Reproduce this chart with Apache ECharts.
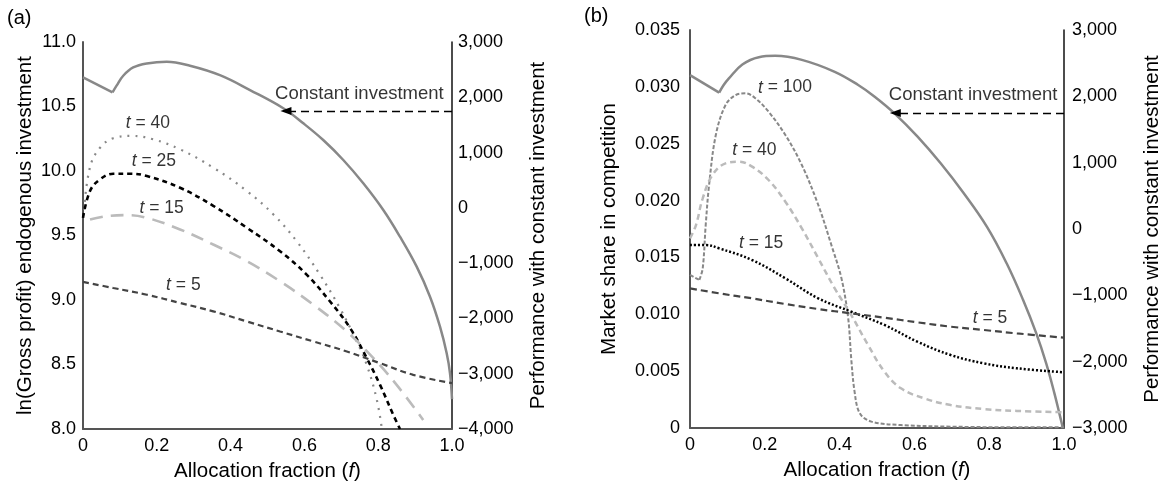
<!DOCTYPE html>
<html>
<head>
<meta charset="utf-8">
<script src="https://cdn.jsdelivr.net/npm/echarts@6/dist/echarts.min.js"></script>
<style>
html,body{margin:0;padding:0;background:#fff;}
#chart{width:1164px;height:487px;}
</style>
</head>
<body>
<div id="chart"></div>
<script>
// ---------- DATA: panel (a) ----------
// Constant investment (right axis)
const aConstF = [0, 0.08, 0.091, 0.109, 0.136, 0.173, 0.227, 0.29, 0.371, 0.4526, 0.5428, 0.597, 0.651, 0.7054, 0.7596, 0.8138, 0.859, 0.9043, 0.9404, 0.9675, 0.9856, 0.9946, 1.0];
const aConstV = [2360, 2087, 2210, 2390, 2540, 2613, 2643, 2571, 2400, 2130, 1801, 1529, 1227, 866, 444, -39, -522, -1064, -1607, -2150, -2631, -2993, -3460];
// ln(Gross profit), endogenous investment (left axis)
const a40F = [0.003, 0.019, 0.046, 0.082, 0.132, 0.19, 0.263, 0.353, 0.444, 0.516, 0.579, 0.642, 0.696, 0.742, 0.769, 0.796, 0.81];
const a40V = [9.70, 10.03, 10.18, 10.254, 10.272, 10.246, 10.168, 10.026, 9.845, 9.663, 9.456, 9.197, 8.938, 8.679, 8.497, 8.23, 8.0];
const a25F = [0, 0.019, 0.046, 0.082, 0.127, 0.173, 0.263, 0.353, 0.444, 0.534, 0.606, 0.669, 0.724, 0.769, 0.805, 0.841, 0.859];
const a25V = [9.637, 9.845, 9.935, 9.979, 9.979, 9.961, 9.870, 9.73, 9.560, 9.378, 9.197, 8.990, 8.782, 8.549, 8.342, 8.109, 8.0];
const a15F = [0.019, 0.064, 0.118, 0.173, 0.263, 0.353, 0.444, 0.534, 0.624, 0.715, 0.787, 0.85, 0.922];
const a15V = [9.624, 9.650, 9.658, 9.637, 9.547, 9.430, 9.301, 9.145, 8.964, 8.756, 8.549, 8.342, 8.070];
const a5F = [0, 0.082, 0.173, 0.263, 0.353, 0.444, 0.534, 0.624, 0.715, 0.805, 0.895, 1.0];
const a5V = [9.140, 9.093, 9.041, 8.977, 8.912, 8.834, 8.756, 8.679, 8.601, 8.510, 8.420, 8.355];

// ---------- DATA: panel (b) ----------
const bConstF = [0, 0.078, 0.09, 0.104, 0.14, 0.184, 0.228, 0.299, 0.387, 0.4497, 0.4938, 0.5467, 0.6085, 0.6702, 0.732, 0.7937, 0.8466, 0.8907, 0.9259, 0.9524, 0.9744, 0.9876, 0.997];
const bConstV = [2320, 2055, 2170, 2270, 2480, 2590, 2610, 2550, 2370, 2171, 1995, 1744, 1392, 990, 538, 35, -517, -1070, -1573, -2025, -2477, -2779, -3000];
// Market share in competition (left axis)
const b100F = [0, 0.025, 0.034, 0.042, 0.051, 0.069, 0.095, 0.122, 0.149, 0.175, 0.21, 0.255, 0.299, 0.343, 0.378, 0.405, 0.423, 0.431, 0.44, 0.454, 0.485, 0.564, 0.697, 0.874, 1.0];
const b100V = [0.01346, 0.01302, 0.01404, 0.01785, 0.02137, 0.02577, 0.0284, 0.02928, 0.02943, 0.02899, 0.02782, 0.02577, 0.02313, 0.01961, 0.01609, 0.01316, 0.00964, 0.00613, 0.0032, 0.00129, 0.00056, 0.00026, 0.00012, 0.00006, 0.00006];
const b40F = [0, 0.016, 0.034, 0.06, 0.095, 0.131, 0.166, 0.21, 0.255, 0.299, 0.343, 0.387, 0.431, 0.476, 0.52, 0.564, 0.626, 0.697, 0.785, 0.874, 1.0];
const b40V = [0.01668, 0.01785, 0.0202, 0.02225, 0.02327, 0.02342, 0.02298, 0.02181, 0.0199, 0.01756, 0.01492, 0.01228, 0.00994, 0.0073, 0.00495, 0.00349, 0.00261, 0.00202, 0.00167, 0.0015, 0.00138];
const b15F = [0, 0.042, 0.078, 0.166, 0.255, 0.343, 0.431, 0.52, 0.608, 0.697, 0.785, 0.874, 1.0];
const b15V = [0.01609, 0.01609, 0.0158, 0.01477, 0.01316, 0.0114, 0.01023, 0.00906, 0.00759, 0.00642, 0.00569, 0.00525, 0.0049];
const b5F = [0, 0.078, 0.166, 0.255, 0.343, 0.431, 0.52, 0.608, 0.697, 0.785, 0.874, 1.0];
const b5V = [0.01228, 0.01184, 0.0114, 0.0109, 0.01046, 0.01008, 0.0097, 0.00929, 0.00891, 0.00862, 0.00832, 0.00794];

// Arrow level on the right axis
const arrowLevel = 1750;

// ---------- annotation text ----------
const aLabels = [
  {text: '{i|t} = 40', f: 0.176, v: 10.368},
  {text: '{i|t} = 25', f: 0.192, v: 10.078},
  {text: '{i|t} = 15', f: 0.213, v: 9.715},
  {text: '{i|t} = 5',  f: 0.272, v: 9.114}
];
const bLabels = [
  {text: '{i|t} = 100', f: 0.254, v: 0.02993},
  {text: '{i|t} = 40',  f: 0.172, v: 0.02445},
  {text: '{i|t} = 15',  f: 0.19,  v: 0.01624},
  {text: '{i|t} = 5',   f: 0.802, v: 0.00965}
];

const FONT = "'Liberation Sans', Arial, Helvetica, sans-serif";
const TICK = 18, TITLE = 20.5, ANN = 17.5;
const zip = (F, V) => F.map((f, i) => [f, V[i]]);

function fmtRight(v) {
  if (v === 0) return '0';
  return (v < 0 ? '\u2212' : '') + Math.abs(v).toLocaleString('en-US');
}

function xAxisCfg(gi) {
  return {
    gridIndex: gi, type: 'value', min: 0, max: 1, interval: 0.2,
    axisLine: {show: true, onZero: false, lineStyle: {color: '#555', width: 2}},
    axisTick: {show: false}, splitLine: {show: false},
    axisLabel: {color: '#000', fontSize: TICK, fontFamily: FONT, margin: 8,
      formatter: v => v === 0 ? '0' : v.toFixed(1)},
    name: 'Allocation fraction ({i|f})', nameLocation: 'middle', nameGap: 32,
    nameTextStyle: {color: '#000', fontSize: TITLE, fontFamily: FONT,
      rich: {i: {fontStyle: 'italic', fontSize: TITLE, fontFamily: FONT, color: '#000'}}}
  };
}

function lineSeries(data, xi, yi, color, width, type, smooth) {
  return {
    type: 'line', xAxisIndex: xi, yAxisIndex: yi, data: data,
    showSymbol: false, symbol: 'none', smooth: smooth === undefined ? 0.4 : smooth,
    lineStyle: {color: color, width: width, type: type, cap: 'butt'},
    silent: true, animation: false, z: 3
  };
}

function labelSeries(labels, xi, yi) {
  return {
    type: 'scatter', xAxisIndex: xi, yAxisIndex: yi, symbolSize: 0, silent: true, animation: false,
    data: labels.map(l => ({value: [l.f, l.v], name: l.text})),
    label: {show: true, position: 'inside', color: '#000', fontSize: ANN, fontFamily: FONT,
      formatter: p => p.name,
      rich: {i: {fontStyle: 'italic', fontSize: ANN, fontFamily: FONT, color: '#000'}}},
    z: 5
  };
}

function arrowSeries(xi, yi, tipF, level, textF, textV) {
  return {
    type: 'scatter', xAxisIndex: xi, yAxisIndex: yi, symbolSize: 0, silent: true, animation: false,
    data: [{value: [textF, textV], name: 'Constant investment'}],
    label: {show: true, position: 'inside', color: '#000', fontSize: 18.5, fontFamily: FONT, formatter: p => p.name},
    markLine: {
      silent: true, animation: false, symbol: ['none', 'triangle'], symbolSize: [8, 11],
      lineStyle: {color: '#000', width: 1.3, type: [8, 5]},
      label: {show: false},
      data: [[{coord: [1, level]}, {coord: [tipF, level]}]]
    },
    z: 5
  };
}

const constColor = '#888';

const option = {
  backgroundColor: '#fff',
  animation: false,
  textStyle: {fontFamily: FONT},
  grid: [
    {left: 83, top: 42, width: 369, height: 387},
    {left: 690, top: 30, width: 378, height: 398}
  ],
  xAxis: [xAxisCfg(0), xAxisCfg(1)],
  yAxis: [
    {gridIndex: 0, type: 'value', position: 'left', min: 8, max: 11, interval: 0.5,
      axisLine: {show: true, onZero: false, lineStyle: {color: '#555', width: 2}},
      axisTick: {show: false}, splitLine: {show: false},
      axisLabel: {color: '#000', fontSize: TICK, fontFamily: FONT, margin: 7, formatter: v => v.toFixed(1)},
      name: 'ln(Gross profit) endogenous investment', nameLocation: 'middle', nameRotate: 90, nameGap: 47,
      nameTextStyle: {color: '#000', fontSize: TITLE, fontFamily: FONT}},
    {gridIndex: 0, type: 'value', position: 'right', min: -4000, max: 3000, interval: 1000,
      axisLine: {show: true, onZero: false, lineStyle: {color: '#111', width: 1.5}},
      axisTick: {show: false}, splitLine: {show: false},
      axisLabel: {color: '#000', fontSize: TICK, fontFamily: FONT, margin: 6, formatter: fmtRight},
      name: 'Performance with constant investment', nameLocation: 'middle', nameRotate: 90, nameGap: 76,
      nameTextStyle: {color: '#000', fontSize: TITLE, fontFamily: FONT}},
    {gridIndex: 1, type: 'value', position: 'left', min: 0, max: 0.035, interval: 0.005,
      axisLine: {show: true, onZero: false, lineStyle: {color: '#555', width: 2}},
      axisTick: {show: false}, splitLine: {show: false},
      axisLabel: {color: '#000', fontSize: TICK, fontFamily: FONT, margin: 10,
        formatter: v => Math.abs(v) < 1e-9 ? '0' : v.toFixed(3)},
      name: 'Market share in competition', nameLocation: 'middle', nameRotate: 90, nameGap: 70,
      nameTextStyle: {color: '#000', fontSize: TITLE, fontFamily: FONT}},
    {gridIndex: 1, type: 'value', position: 'right', min: -3000, max: 3000, interval: 1000,
      axisLine: {show: true, onZero: false, lineStyle: {color: '#111', width: 1.5}},
      axisTick: {show: false}, splitLine: {show: false},
      axisLabel: {color: '#000', fontSize: TICK, fontFamily: FONT, margin: 8, formatter: fmtRight},
      name: 'Performance with constant investment', nameLocation: 'middle', nameRotate: 90, nameGap: 78,
      nameTextStyle: {color: '#000', fontSize: TITLE, fontFamily: FONT}}
  ],
  graphic: [
    {type: 'text', left: 7, top: 8, style: {text: '(a)', fontSize: 20, fontFamily: FONT, fill: '#000'}},
    {type: 'text', left: 584, top: 6, style: {text: '(b)', fontSize: 20, fontFamily: FONT, fill: '#000'}}
  ],
  series: [
    // panel (a)
    lineSeries(zip(aConstF.slice(0, 2), aConstV.slice(0, 2)), 0, 1, constColor, 2.5, 'solid', false),
    lineSeries(zip(aConstF.slice(1), aConstV.slice(1)), 0, 1, constColor, 2.5, 'solid', 0.4),
    lineSeries(zip(a40F, a40V), 0, 0, '#888', 2.2, [2, 6]),
    lineSeries(zip(a25F, a25V), 0, 0, '#000', 2.6, [5, 4]),
    lineSeries(zip(a15F, a15V), 0, 0, '#bbb', 2.6, [13, 8]),
    lineSeries(zip(a5F, a5V), 0, 0, '#444', 2.2, [6, 4]),
    labelSeries(aLabels, 0, 0),
    arrowSeries(0, 1, 0.55, arrowLevel, 0.749, 2070),
    // panel (b)
    lineSeries(zip(bConstF.slice(0, 2), bConstV.slice(0, 2)), 1, 3, constColor, 2.5, 'solid', false),
    lineSeries(zip(bConstF.slice(1), bConstV.slice(1)), 1, 3, constColor, 2.5, 'solid', 0.4),
    lineSeries(zip(b100F.slice(0, 2), b100V.slice(0, 2)), 1, 2, '#888', 2, [4, 2], false),
    lineSeries(zip(b100F.slice(1), b100V.slice(1)), 1, 2, '#888', 2, [4, 2], 0.35),
    lineSeries(zip(b40F, b40V), 1, 2, '#bbb', 2.5, [6, 4]),
    lineSeries(zip(b15F, b15V), 1, 2, '#000', 2.5, [2, 2]),
    lineSeries(zip(b5F, b5V), 1, 2, '#444', 2.2, [7, 4]),
    labelSeries(bLabels, 1, 2),
    arrowSeries(1, 3, 0.549, arrowLevel, 0.757, 2020)
  ]
};

const chart = echarts.init(document.getElementById('chart'), null, {renderer: 'canvas'});
chart.setOption(option);
</script>
</body>
</html>
